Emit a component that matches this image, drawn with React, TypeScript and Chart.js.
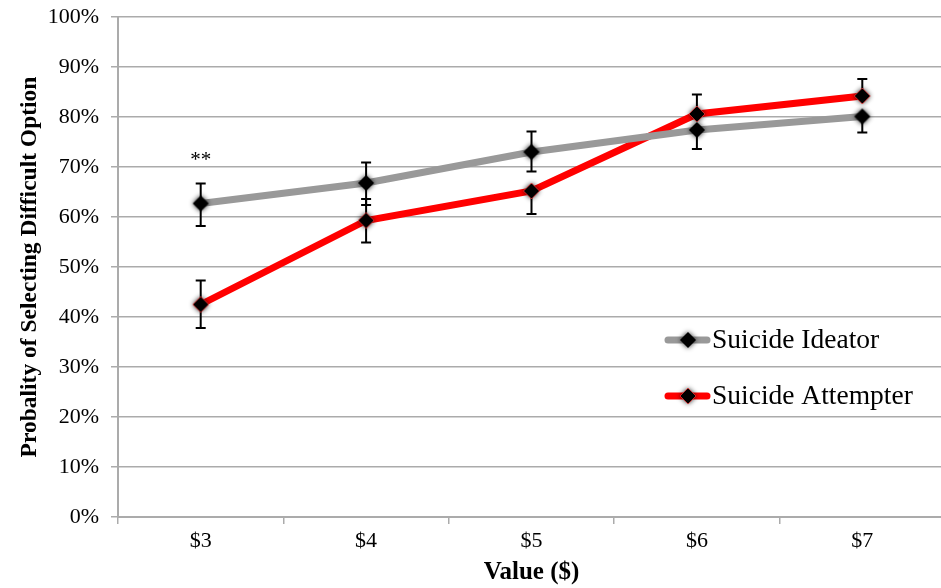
import React, { useEffect, useRef } from "react";
import { Chart, registerables } from "chart.js";

Chart.register(...registerables);

const categories = ["$3", "$4", "$5", "$6", "$7"];
const ideator = [62.7, 66.8, 73.0, 77.4, 80.1];
const attempter = [42.5, 59.3, 65.2, 80.6, 84.2];
const ideatorErrUp = [4.0, 4.1, 4.1, 0, 0];
const ideatorErrDown = [4.5, 4.4, 3.9, 3.8, 3.2];
const attempterErrUp = [4.8, 4.3, 0, 3.9, 3.4];
const attempterErrDown = [4.7, 4.4, 4.6, 0, 0];
const seriesNames = ["Suicide Ideator", "Suicide Attempter"];
const seriesColors = ["#999999", "#ff0000"];
const sigLabel = "**";
const sigIndex = 0;
const sigValue = 72;

const SERIF = "'Liberation Serif', 'Times New Roman', serif";

function makeDiamond(edge: string | null): HTMLCanvasElement {
  const c = document.createElement("canvas");
  c.width = 28;
  c.height = 28;
  const g = c.getContext("2d")!;
  g.shadowColor = "rgba(0,0,0,0.85)";
  g.shadowBlur = 5;
  g.beginPath();
  g.moveTo(14, 6);
  g.lineTo(22, 14);
  g.lineTo(14, 22);
  g.lineTo(6, 14);
  g.closePath();
  g.fillStyle = "#000";
  g.fill();
  if (edge) {
    g.shadowBlur = 0;
    g.strokeStyle = edge;
    g.lineWidth = 1;
    g.stroke();
  }
  return c;
}

export default function App() {
  const ref = useRef<HTMLCanvasElement | null>(null);

  useEffect(() => {
    document.body.style.margin = "0";
    const canvas = ref.current;
    if (!canvas) return;
    const grayMarker = makeDiamond(null);
    const redMarker = makeDiamond("rgba(255,60,60,0.7)");
    const markers = [grayMarker, redMarker];

    const errorBars = {
      id: "errorBars",
      beforeDatasetsDraw(chart: any) {
        const { ctx, scales } = chart;
        const xs = scales.x;
        const ys = scales.y;
        const sets = [
          { v: ideator, up: ideatorErrUp, dn: ideatorErrDown },
          { v: attempter, up: attempterErrUp, dn: attempterErrDown },
        ];
        ctx.save();
        ctx.strokeStyle = "#000";
        ctx.lineWidth = 2;
        sets.forEach((s) => {
          s.v.forEach((val, i) => {
            const x = xs.getPixelForValue(i);
            const yc = ys.getPixelForValue(val);
            const cap = 5;
            if (s.up[i] > 0) {
              const yt = ys.getPixelForValue(val + s.up[i]);
              ctx.beginPath();
              ctx.moveTo(x, yc);
              ctx.lineTo(x, yt);
              ctx.moveTo(x - cap, yt);
              ctx.lineTo(x + cap, yt);
              ctx.stroke();
            }
            if (s.dn[i] > 0) {
              const yb = ys.getPixelForValue(val - s.dn[i]);
              ctx.beginPath();
              ctx.moveTo(x, yc);
              ctx.lineTo(x, yb);
              ctx.moveTo(x - cap, yb);
              ctx.lineTo(x + cap, yb);
              ctx.stroke();
            }
          });
        });
        ctx.restore();
      },
      afterDraw(chart: any) {
        const { ctx, scales } = chart;
        ctx.save();
        ctx.font = `21px ${SERIF}`;
        ctx.fillStyle = "#000";
        ctx.textAlign = "center";
        ctx.textBaseline = "middle";
        ctx.fillText(sigLabel, scales.x.getPixelForValue(sigIndex), scales.y.getPixelForValue(sigValue) + 3);
        const lx = 668;
        const rows = [340, 396];
        rows.forEach((ry, i) => {
          ctx.strokeStyle = seriesColors[i];
          ctx.lineWidth = 7;
          ctx.lineCap = "round";
          ctx.beginPath();
          ctx.moveTo(lx, ry);
          ctx.lineTo(lx + 39, ry);
          ctx.stroke();
          const m = markers[i];
          ctx.drawImage(m, lx + 20 - m.width / 2, ry - m.height / 2);
          ctx.font = `27.5px ${SERIF}`;
          ctx.fillStyle = "#000";
          ctx.textAlign = "left";
          ctx.textBaseline = "middle";
          ctx.fillText(seriesNames[i], lx + 44, ry + 1);
        });
        ctx.restore();
      },
    };

    const chart = new Chart(canvas, {
      type: "line",
      data: {
        labels: categories,
        datasets: [
          {
            label: seriesNames[0],
            data: ideator,
            borderColor: seriesColors[0],
            borderWidth: 7,
            pointStyle: grayMarker as any,
            pointRadius: 8,
            tension: 0,
          },
          {
            label: seriesNames[1],
            data: attempter,
            borderColor: seriesColors[1],
            borderWidth: 7,
            pointStyle: redMarker as any,
            pointRadius: 8,
            tension: 0,
          },
        ],
      },
      options: {
        animation: false,
        responsive: false,
        maintainAspectRatio: false,
        devicePixelRatio: 1,
        layout: { padding: { top: 17, right: 9, left: 0, bottom: 0 } },
        plugins: {
          legend: { display: false },
          tooltip: { enabled: false },
        },
        scales: {
          x: {
            offset: true,
            grid: {
              display: true,
              drawOnChartArea: false,
              offset: true,
              tickLength: 7,
              color: "#ababab",
              lineWidth: 1.5,
            },
            border: { color: "#ababab", width: 2 },
            ticks: {
              color: "#000",
              padding: 4,
              font: { family: SERIF, size: 22 },
            },
            title: {
              display: true,
              text: "Value ($)",
              color: "#000",
              font: { family: SERIF, size: 25, weight: "bold" },
              padding: { top: 0, bottom: 0 },
            },
            afterFit: (s: any) => {
              s.height = 71;
              s.paddingLeft = 0;
              s.paddingRight = 0;
            },
          },
          y: {
            min: 0,
            max: 100,
            ticks: {
              stepSize: 10,
              color: "#000",
              padding: 12,
              font: { family: SERIF, size: 22 },
              callback: (v: any) => `${v}%`,
            },
            grid: {
              color: "#ababab",
              lineWidth: 1.5,
              tickLength: 7,
            },
            border: { color: "#ababab", width: 2 },
            title: {
              display: true,
              text: "Probality of Selecting Difficult Option",
              color: "#000",
              font: { family: SERIF, size: 23.5, weight: "bold" },
              padding: { top: 16, bottom: 0 },
            },
            afterFit: (s: any) => {
              s.width = 118;
              s.paddingTop = 0;
              s.paddingBottom = 0;
            },
          },
        },
      },
      plugins: [errorBars],
    });

    return () => chart.destroy();
  }, []);

  return (
    <div style={{ width: 941, height: 588, overflow: "hidden", position: "relative", background: "#fff" }}>
      <canvas ref={ref} width={960} height={588} style={{ display: "block", width: 960, height: 588 }} />
    </div>
  );
}
